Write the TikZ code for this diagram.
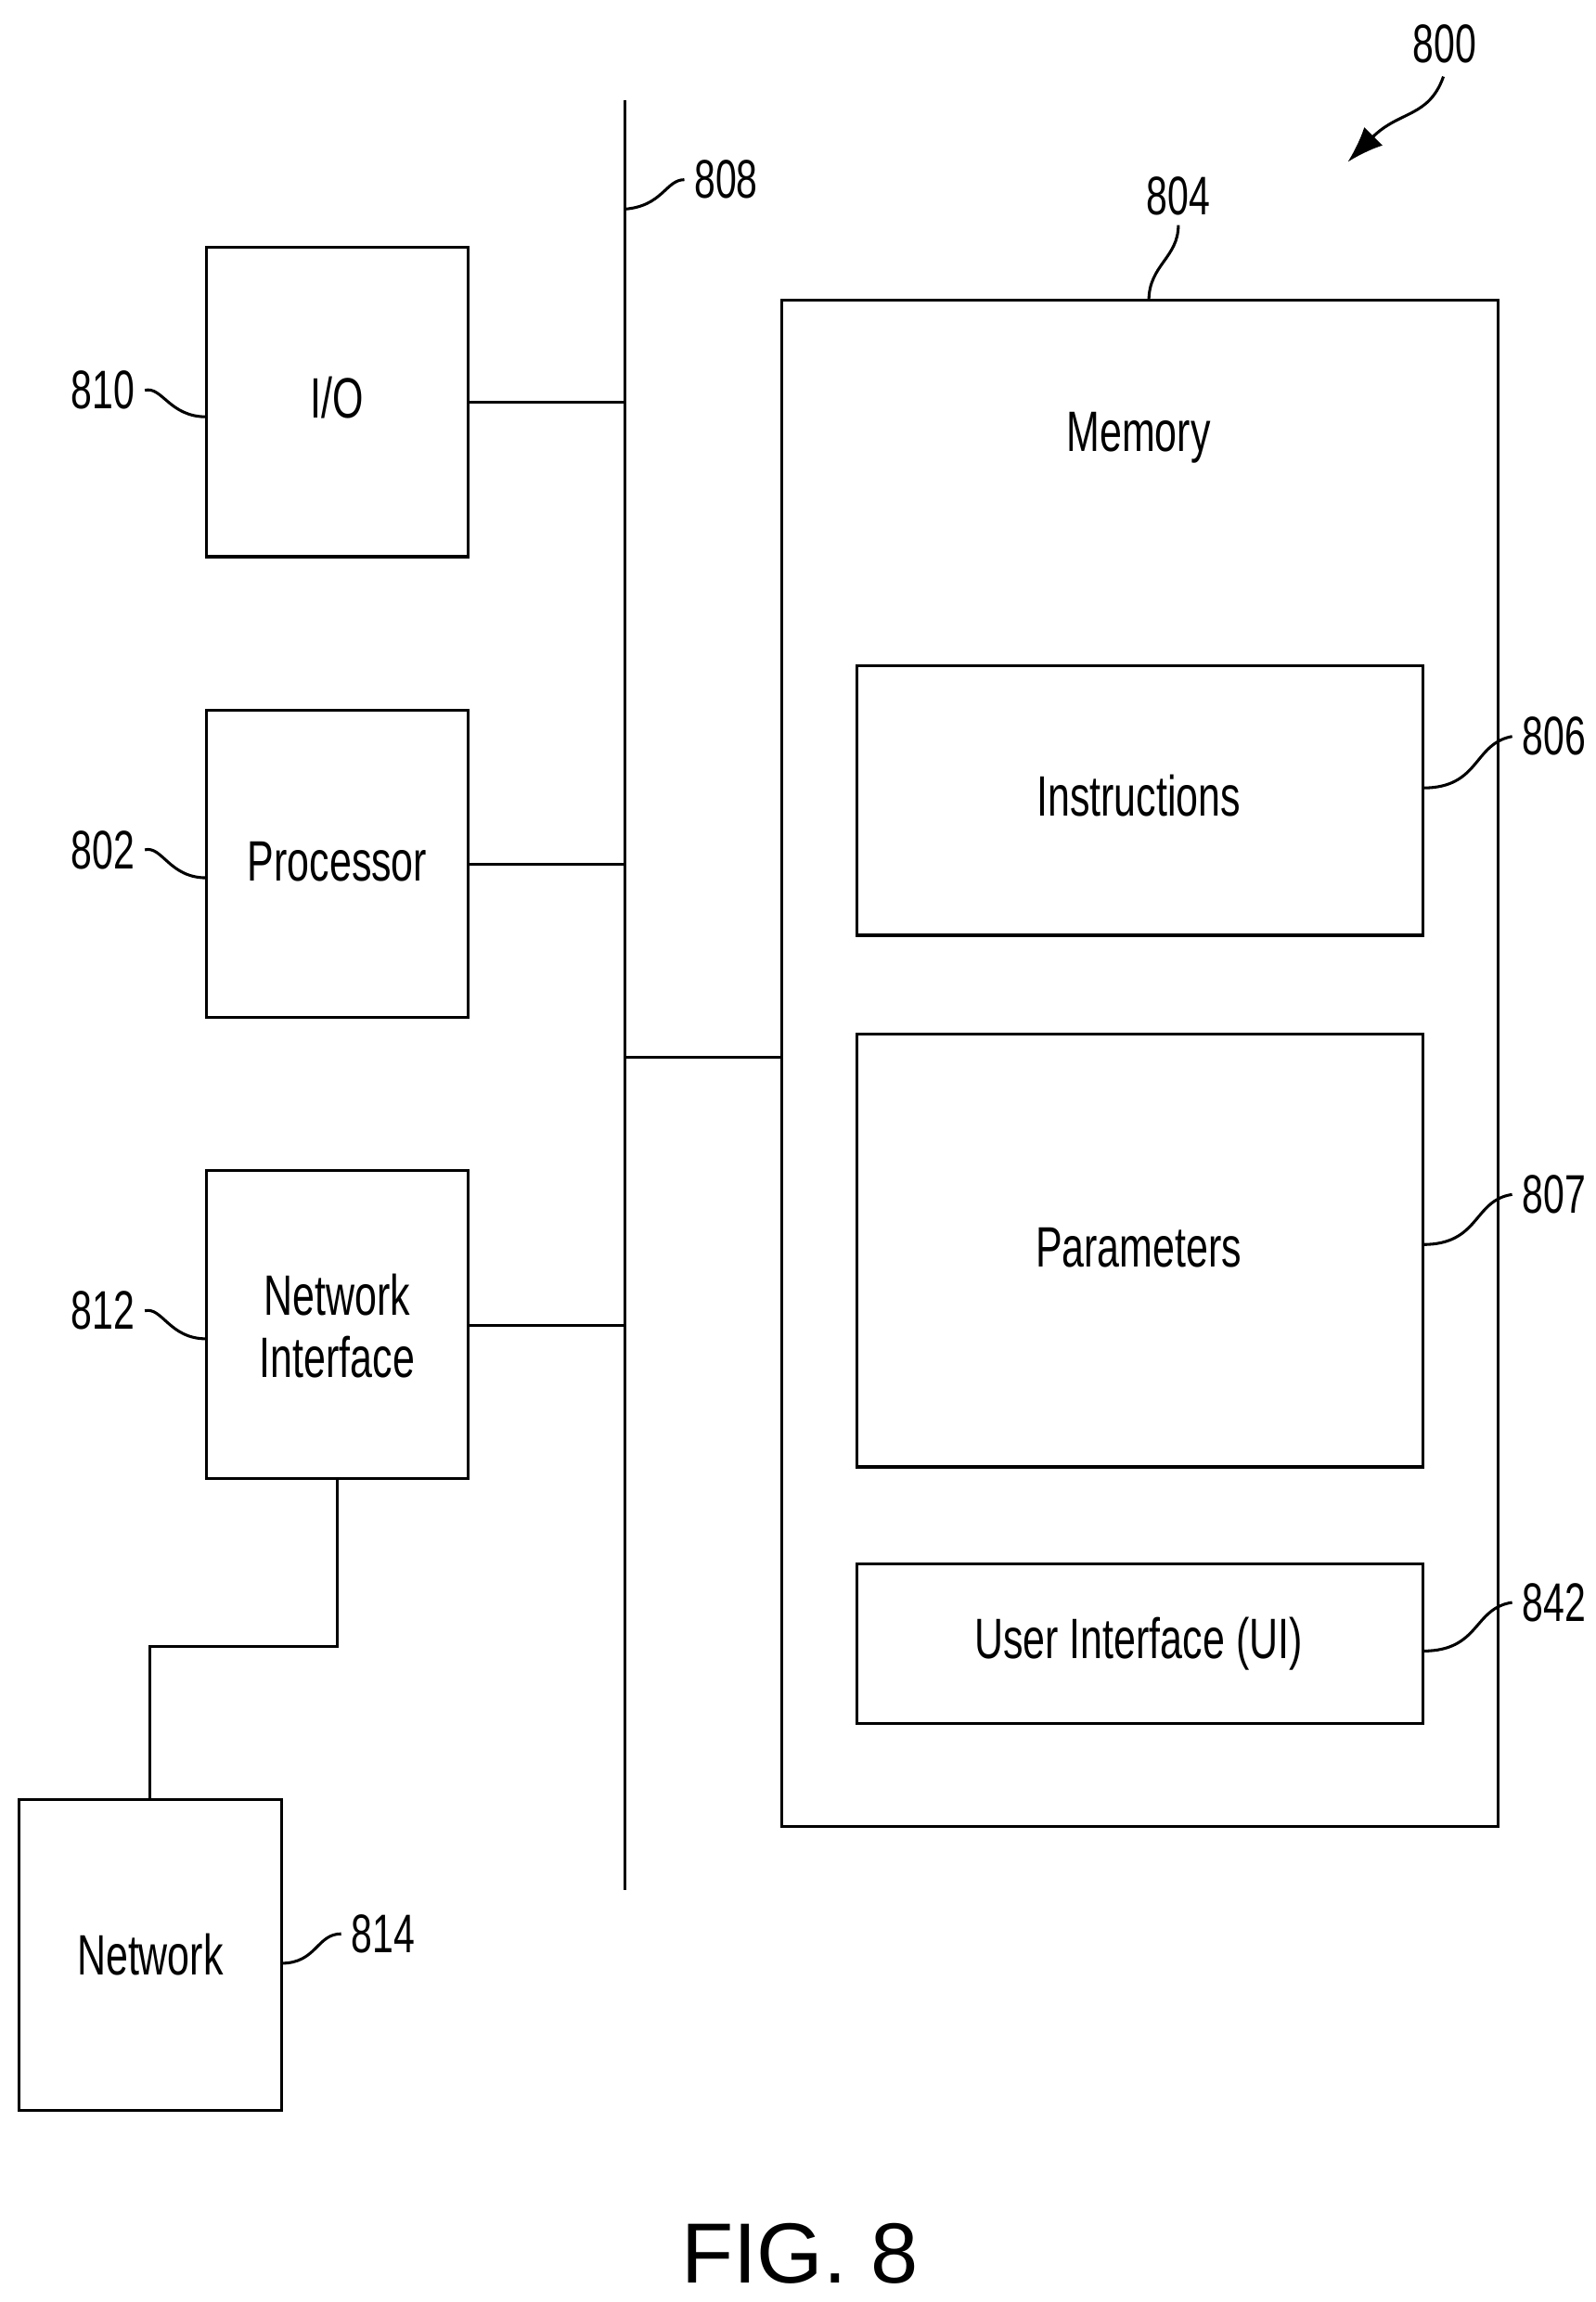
\documentclass[tikz,border=0pt]{standalone}
\usepackage{fontspec}
\usetikzlibrary{arrows.meta}
\setmainfont{Liberation Sans}
\newfontfamily\narrowf[FakeStretch=0.7]{Liberation Sans}
\begin{document}
\begin{tikzpicture}[x=0.02cm,y=-0.02cm,line width=1.1pt,
  box/.style={draw,line width=1.1pt},
  lbl/.style={font=\narrowf\fontsize{22}{24}\selectfont,align=center},
  num/.style={font=\narrowf\fontsize{21}{24}\selectfont}]
\useasboundingbox (0,0) rectangle (1083,1563);
\coordinate (bt) at (424,68); \coordinate (bb) at (424,1283);
\draw (bt) -- (bb);
\node[num] (n808) at (493,122) {808};
\draw (424,142) .. controls (450,140) and (452,122) .. (n808.west);
% left boxes
\draw[box] (140,168) rectangle (318,378); \node[lbl] (io) at (229,270) {I/O};
\draw (318,273) -- (424,273);
\node[num] (n810) at (70,265) {810};
\draw (n810.east) .. controls (110,262) and (115,283) .. (140,283);
\draw[box] (140,482) rectangle (318,691); \node[lbl] (proc) at (229,585) {Processor};
\draw (318,587) -- (424,587);
\node[num] (n802) at (70,577) {802};
\draw (n802.east) .. controls (110,574) and (115,596) .. (140,596);
\draw[box] (140,795) rectangle (318,1004); \node[lbl] (ni) at (229,900) {Network\\Interface};
\draw (318,900) -- (424,900);
\node[num] (n812) at (70,890) {812};
\draw (n812.east) .. controls (110,887) and (115,909) .. (140,909);
\draw[box] (13,1222) rectangle (191,1433); \node[lbl] (net) at (102,1327) {Network};
\draw (229,1004) -- (229,1118) -- (102,1118) -- (102,1222);
\node[num] (n814) at (260,1313) {814};
\draw (191,1333) .. controls (215,1333) and (215,1313) .. (n814.west);
% memory
\draw[box] (531,204) rectangle (1017,1240); \node[lbl] (mem) at (773,297) {Memory};
\draw (424,718) -- (531,718);
\node[num] (n804) at (800,133) {804};
\draw (780,204) .. controls (780,180) and (800,175) .. (n804.south);
\draw[box] (582,452) rectangle (966,635); \node[lbl] (ins) at (773,540) {Instructions};
\draw[box] (582,702) rectangle (966,996); \node[lbl] (par) at (773,847) {Parameters};
\draw[box] (582,1062) rectangle (966,1170); \node[lbl] (ui) at (773,1116) {User Interface (UI)};
\node[num] (n806) at (1055,500) {806};
\draw (966,535) .. controls (1005,535) and (1000,505) .. (n806.west);
\node[num] (n807) at (1055,811) {807};
\draw (966,845) .. controls (1005,845) and (1000,815) .. (n807.west);
\node[num] (n842) at (1055,1088) {842};
\draw (966,1121) .. controls (1005,1121) and (1000,1092) .. (n842.west);
\node[num] (n800) at (981,30) {800};
\draw[-{Latex[length=14pt,width=10pt]}] (980,52) .. controls (970,80) and (950,75) .. (915,110);
\node[font=\fontsize{33}{36}\selectfont] (fig) at (543,1530) {FIG. 8};
\end{tikzpicture}
\end{document}
